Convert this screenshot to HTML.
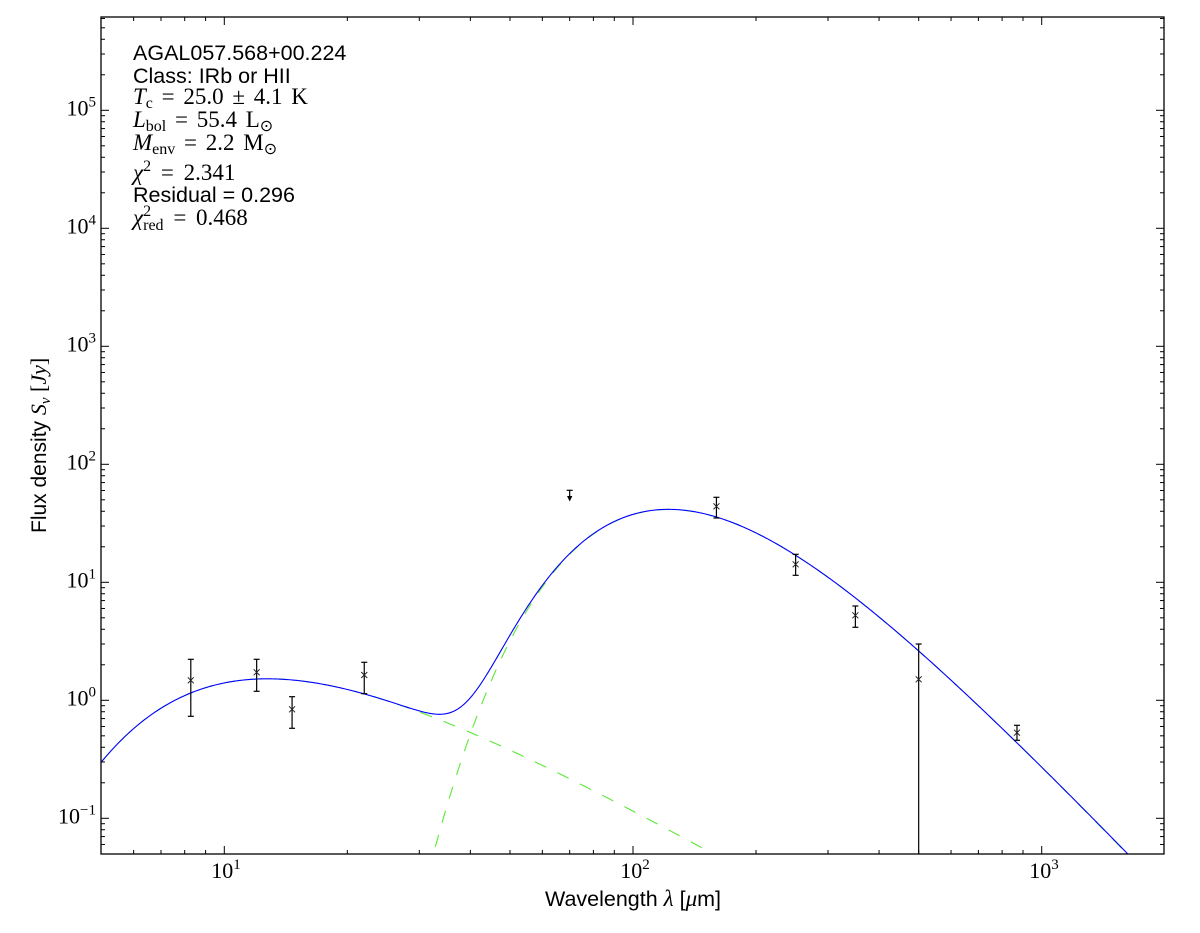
<!DOCTYPE html>
<html><head><meta charset="utf-8"><style>
html,body{margin:0;padding:0;background:#fff;width:1200px;height:933px;overflow:hidden;}
svg{display:block}
.s{font-family:"Liberation Sans",sans-serif;}
.m{font-family:"Liberation Serif",serif;}
</style></head><body>
<svg id="c" width="1200" height="933" viewBox="0 0 1200 933" xmlns="http://www.w3.org/2000/svg" overflow="hidden">
<defs><clipPath id="clip"><rect x="101" y="17" width="1063" height="837"/></clipPath></defs>
<rect width="1200" height="933" fill="#fff"/>
<g clip-path="url(#clip)">
<path id="pw" fill="none" stroke="#5be835" stroke-width="1.1" stroke-dasharray="12.5 12.5"/>
<path id="pc" fill="none" stroke="#5be835" stroke-width="1.1" stroke-dasharray="12.5 12.5"/>
<path id="pt" fill="none" stroke="#0000ff" stroke-width="1.1"/>
<g id="data" stroke="#000" stroke-width="1.2" fill="none"></g>
</g>
<g id="ticks" stroke="#000" stroke-width="1"></g>
<rect x="101" y="17" width="1063" height="837" fill="none" stroke="#000" stroke-width="1.3"/>

<!-- y tick labels -->
<g class="m" font-size="22" fill="#000" text-anchor="end">
<text x="96" y="823.3">10<tspan font-size="15" dy="-9">−1</tspan></text>
<text x="96" y="705.3">10<tspan font-size="15" dy="-9">0</tspan></text>
<text x="96" y="587.3">10<tspan font-size="15" dy="-9">1</tspan></text>
<text x="96" y="469.3">10<tspan font-size="15" dy="-9">2</tspan></text>
<text x="96" y="351.3">10<tspan font-size="15" dy="-9">3</tspan></text>
<text x="96" y="233.3">10<tspan font-size="15" dy="-9">4</tspan></text>
<text x="96" y="115.3">10<tspan font-size="15" dy="-9">5</tspan></text>
</g>
<!-- x tick labels -->
<g class="m" font-size="22" fill="#000" text-anchor="middle">
<text x="226" y="878">10<tspan font-size="15" dy="-9">1</tspan></text>
<text x="635" y="878">10<tspan font-size="15" dy="-9">2</tspan></text>
<text x="1044" y="878">10<tspan font-size="15" dy="-9">3</tspan></text>
</g>

<!-- axis labels -->
<text x="633" y="906" text-anchor="middle" font-size="21.5" fill="#000" class="s">Wavelength <tspan class="m" font-style="italic" font-size="23">λ</tspan> [<tspan class="m" font-style="italic" font-size="23">μ</tspan>m]</text>
<text transform="translate(46,533) rotate(-90)" font-size="21" fill="#000" class="s">Flux density <tspan class="m" font-style="italic" font-size="22">S</tspan><tspan class="m" font-style="italic" font-size="15" dy="4">ν</tspan><tspan class="m" font-size="22" dy="-4"> [</tspan><tspan class="m" font-style="italic" font-size="22">Jy</tspan><tspan class="m" font-size="22">]</tspan></text>

<!-- annotation -->
<g fill="#000">
<text x="133" y="60" class="s" font-size="21.5">AGAL057.568+00.224</text>
<text x="133" y="83" class="s" font-size="21.5">Class: IRb or HII</text>
<text x="133" y="104" class="m" font-size="23" word-spacing="3"><tspan font-style="italic">T</tspan><tspan font-size="16" dy="4">c</tspan><tspan dy="-4"> = 25.0 ± 4.1 K</tspan></text>
<text x="133" y="127" class="m" font-size="23" word-spacing="3"><tspan font-style="italic">L</tspan><tspan font-size="16" dy="4">bol</tspan><tspan dy="-4"> = 55.4 L</tspan><tspan font-size="16" dy="4">⊙</tspan></text>
<text x="133" y="150" class="m" font-size="23" word-spacing="3"><tspan font-style="italic">M</tspan><tspan font-size="16" dy="4">env</tspan><tspan dy="-4"> = 2.2 M</tspan><tspan font-size="16" dy="4">⊙</tspan></text>
<text x="133" y="180" class="m" font-size="23" word-spacing="4"><tspan font-style="italic">χ</tspan><tspan font-size="16" dy="-9">2</tspan><tspan dy="9"> = 2.341</tspan></text>
<text x="133" y="202" class="s" font-size="21.5">Residual = 0.296</text>
<text x="133" y="225" class="m" font-size="23" word-spacing="4"><tspan font-style="italic">χ</tspan><tspan font-size="16" dy="-9">2</tspan><tspan font-size="16" dx="-8" dy="14">red</tspan><tspan dy="-5"> = 0.468</tspan></text>
</g>
</svg>
<script>
(function(){
var NS="http://www.w3.org/2000/svg";
function X(l){return 224.3+408.7*(Math.log10(l)-1);}
function Y(s){return 700.3-118*Math.log10(s);}
function warm(l){var x=14388/(l*400);return 1.07*x*x*x/Math.expm1(x);}
function cold(l){var x=575.52/l;return 2.898*Math.pow(x,4.75)/Math.expm1(x);}
function path(f){
  var d="",a=Math.log10(5),b=Math.log10(2000),n=700;
  for(var i=0;i<=n;i++){
    var l=Math.pow(10,a+(b-a)*i/n);var v=f(l);var y=Y(v);
    if(!isFinite(y)||y>900)y=900;
    d+=(i?"L":"M")+X(l).toFixed(2)+","+y.toFixed(2);
  }
  return d;
}
document.getElementById("pw").setAttribute("d",path(warm));
document.getElementById("pc").setAttribute("d",path(cold));
document.getElementById("pt").setAttribute("d",path(function(l){return warm(l)+cold(l);}));

function el(p,tag,at){var e=document.createElementNS(NS,tag);for(var k in at)e.setAttribute(k,at[k]);p.appendChild(e);return e;}
var g=document.getElementById("data");
var pts=[[8.28,680.3,659.3,716.3],[12,672.3,659.3,691.3],[14.65,709.3,696.7,728.3],[22,675,662.3,693.7],
[160,506.3,497.3,518],[250,564.3,554.3,575.3],[350,615.3,606,627.3],[500,679.3,644,860],[870,732.7,725.3,740.3]];
pts.forEach(function(p){
  var x=X(p[0]);
  el(g,"line",{x1:x,y1:p[2],x2:x,y2:p[3]});
  el(g,"line",{x1:x-3,y1:p[2],x2:x+3,y2:p[2]});
  if(p[3]<854)el(g,"line",{x1:x-3,y1:p[3],x2:x+3,y2:p[3]});
  el(g,"path",{d:"M"+(x-3)+","+(p[1]-3)+"L"+(x+3)+","+(p[1]+3)+"M"+(x-3)+","+(p[1]+3)+"L"+(x+3)+","+(p[1]-3),"stroke-width":"1","stroke":"#222"});
});
var ux=X(70);
el(g,"line",{x1:ux-3,y1:490.3,x2:ux+3,y2:490.3});
el(g,"line",{x1:ux,y1:490.3,x2:ux,y2:498});
el(g,"path",{d:"M"+(ux-2.2)+",496.3L"+(ux+2.2)+",496.3L"+ux+",500.8Z",fill:"#000","stroke-width":"0.6"});

var t=document.getElementById("ticks");
function tk(x1,y1,x2,y2){el(t,"line",{x1:x1,y1:y1,x2:x2,y2:y2});}
for(var k=-2;k<=5;k++){
  for(var m=1;m<=9;m++){
    var v=m*Math.pow(10,k);var y=Y(v);
    if(y<17.5||y>853.5)continue;
    var L=(m==1)?8:4;
    tk(101,y,101+L,y);tk(1164,y,1164-L,y);
  }
}
for(var k=0;k<=3;k++){
  for(var m=1;m<=9;m++){
    var v=m*Math.pow(10,k);var x=X(v);
    if(x<101.5||x>1163.5)continue;
    var L=(m==1)?8:4;
    tk(x,854,x,854-L);tk(x,17,x,17+L);
  }
}
})();
</script>
</body></html>
